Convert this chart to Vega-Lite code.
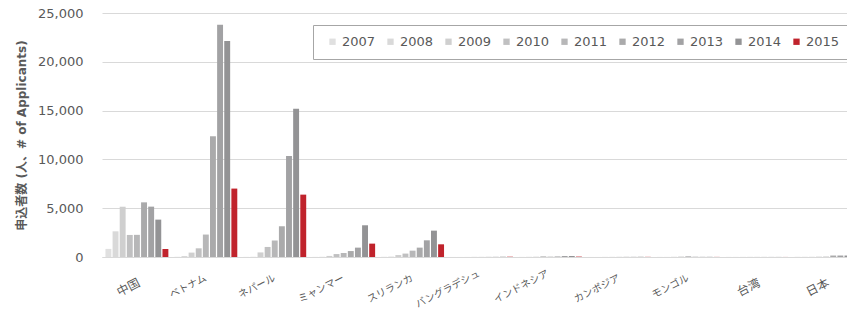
{
  "$schema": "https://vega.github.io/schema/vega-lite/v6.json",
  "autosize": {"type": "none"},
  "width": 745,
  "height": 244,
  "padding": {"left": 102, "top": 13, "right": 0, "bottom": 52},
  "config": {
    "view": {"stroke": null},
    "font": "DejaVu Sans, Noto Sans CJK JP",
    "axis": {"labelColor": "#595959", "titleColor": "#595959"}
  },
  "data": {"values": [
    {"c":"中国","y":"2007","v":830},{"c":"中国","y":"2008","v":2630},{"c":"中国","y":"2009","v":5150},{"c":"中国","y":"2010","v":2260},{"c":"中国","y":"2011","v":2270},{"c":"中国","y":"2012","v":5600},{"c":"中国","y":"2013","v":5160},{"c":"中国","y":"2014","v":3830},{"c":"中国","y":"2015","v":820},
    {"c":"ベトナム","y":"2007","v":20},{"c":"ベトナム","y":"2008","v":100},{"c":"ベトナム","y":"2009","v":450},{"c":"ベトナム","y":"2010","v":890},{"c":"ベトナム","y":"2011","v":2300},{"c":"ベトナム","y":"2012","v":12370},{"c":"ベトナム","y":"2013","v":23800},{"c":"ベトナム","y":"2014","v":22130},{"c":"ベトナム","y":"2015","v":7010},
    {"c":"ネパール","y":"2007","v":10},{"c":"ネパール","y":"2008","v":20},{"c":"ネパール","y":"2009","v":470},{"c":"ネパール","y":"2010","v":1030},{"c":"ネパール","y":"2011","v":1690},{"c":"ネパール","y":"2012","v":3150},{"c":"ネパール","y":"2013","v":10350},{"c":"ネパール","y":"2014","v":15200},{"c":"ネパール","y":"2015","v":6390},
    {"c":"ミャンマー","y":"2007","v":10},{"c":"ミャンマー","y":"2008","v":20},{"c":"ミャンマー","y":"2009","v":110},{"c":"ミャンマー","y":"2010","v":300},{"c":"ミャンマー","y":"2011","v":410},{"c":"ミャンマー","y":"2012","v":610},{"c":"ミャンマー","y":"2013","v":960},{"c":"ミャンマー","y":"2014","v":3250},{"c":"ミャンマー","y":"2015","v":1370},
    {"c":"スリランカ","y":"2007","v":20},{"c":"スリランカ","y":"2008","v":40},{"c":"スリランカ","y":"2009","v":200},{"c":"スリランカ","y":"2010","v":350},{"c":"スリランカ","y":"2011","v":650},{"c":"スリランカ","y":"2012","v":960},{"c":"スリランカ","y":"2013","v":1710},{"c":"スリランカ","y":"2014","v":2700},{"c":"スリランカ","y":"2015","v":1300},
    {"c":"バングラデシュ","y":"2007","v":5},{"c":"バングラデシュ","y":"2008","v":5},{"c":"バングラデシュ","y":"2009","v":5},{"c":"バングラデシュ","y":"2010","v":10},{"c":"バングラデシュ","y":"2011","v":10},{"c":"バングラデシュ","y":"2012","v":15},{"c":"バングラデシュ","y":"2013","v":20},{"c":"バングラデシュ","y":"2014","v":30},{"c":"バングラデシュ","y":"2015","v":30},
    {"c":"インドネシア","y":"2007","v":10},{"c":"インドネシア","y":"2008","v":20},{"c":"インドネシア","y":"2009","v":30},{"c":"インドネシア","y":"2010","v":80},{"c":"インドネシア","y":"2011","v":40},{"c":"インドネシア","y":"2012","v":60},{"c":"インドネシア","y":"2013","v":100},{"c":"インドネシア","y":"2014","v":100},{"c":"インドネシア","y":"2015","v":40},
    {"c":"カンボジア","y":"2007","v":5},{"c":"カンボジア","y":"2008","v":5},{"c":"カンボジア","y":"2009","v":10},{"c":"カンボジア","y":"2010","v":10},{"c":"カンボジア","y":"2011","v":15},{"c":"カンボジア","y":"2012","v":20},{"c":"カンボジア","y":"2013","v":20},{"c":"カンボジア","y":"2014","v":25},{"c":"カンボジア","y":"2015","v":15},
    {"c":"モンゴル","y":"2007","v":10},{"c":"モンゴル","y":"2008","v":10},{"c":"モンゴル","y":"2009","v":20},{"c":"モンゴル","y":"2010","v":40},{"c":"モンゴル","y":"2011","v":80},{"c":"モンゴル","y":"2012","v":30},{"c":"モンゴル","y":"2013","v":20},{"c":"モンゴル","y":"2014","v":20},{"c":"モンゴル","y":"2015","v":10},
    {"c":"台湾","y":"2007","v":10},{"c":"台湾","y":"2008","v":10},{"c":"台湾","y":"2009","v":10},{"c":"台湾","y":"2010","v":10},{"c":"台湾","y":"2011","v":10},{"c":"台湾","y":"2012","v":10},{"c":"台湾","y":"2013","v":10},{"c":"台湾","y":"2014","v":10},{"c":"台湾","y":"2015","v":5},
    {"c":"日本","y":"2007","v":20},{"c":"日本","y":"2008","v":20},{"c":"日本","y":"2009","v":20},{"c":"日本","y":"2010","v":30},{"c":"日本","y":"2011","v":40},{"c":"日本","y":"2012","v":150},{"c":"日本","y":"2013","v":150},{"c":"日本","y":"2014","v":150},{"c":"日本","y":"2015","v":150}
  ]},
  "mark": {"type": "bar"},
  "encoding": {
    "x": {
      "field": "c", "type": "nominal",
      "sort": ["中国","ベトナム","ネパール","ミャンマー","スリランカ","バングラデシュ","インドネシア","カンボジア","モンゴル","台湾","日本"],
      "scale": {"range": [0, 759], "paddingInner": 0.087, "paddingOuter": 0.05},
      "axis": {
        "title": null, "labelAngle": -27, "labelPadding": 20,
        "labelFontSize": {"condition": {"test": "length(datum.label) <= 2", "value": 12}, "value": 10},
        "labelBaseline": {"condition": [
          {"test": "length(datum.label) >= 6", "value": "bottom"},
          {"test": "length(datum.label) >= 4", "value": "middle"}
        ], "value": "top"},
        "ticks": false, "domainColor": "#d9d9d9", "labelFont": "Noto Sans CJK JP"
      }
    },
    "xOffset": {
      "field": "y", "type": "nominal",
      "scale": {"paddingInner": 0.17, "paddingOuter": 0}
    },
    "y": {
      "field": "v", "type": "quantitative",
      "scale": {"domain": [0, 25000], "nice": false},
      "axis": {
        "title": "申込者数 (人、# of Applicants)", "titleFontSize": 12, "titleFontWeight": "bold",
        "titlePadding": 9,
        "values": [0, 5000, 10000, 15000, 20000, 25000], "format": ",d",
        "labelFontSize": 13, "labelPadding": 19, "ticks": false, "domain": false,
        "gridColor": "#d9d9d9", "gridWidth": 1
      }
    },
    "color": {
      "field": "y", "type": "nominal",
      "scale": {
        "domain": ["2007","2008","2009","2010","2011","2012","2013","2014","2015"],
        "range": ["#e0e0e0","#d9d9d9","#cfcfcf","#c0c0c1","#b7b7b8","#aaaaab","#a2a2a4","#939395","#c0232c"]
      },
      "legend": {
        "orient": "none", "legendX": 211, "legendY": 12,
        "direction": "horizontal", "columns": 9,
        "title": " ", "titleOrient": "left", "titlePadding": 3, "titleFontSize": 8,
        "symbolType": "square", "symbolSize": 40, "symbolStrokeWidth": 0,
        "labelFontSize": 13, "labelColor": "#595959", "labelOffset": 3,
        "columnPadding": 8, "padding": 10,
        "fillColor": "white", "strokeColor": "#a6a6a6"
      }
    }
  }
}
